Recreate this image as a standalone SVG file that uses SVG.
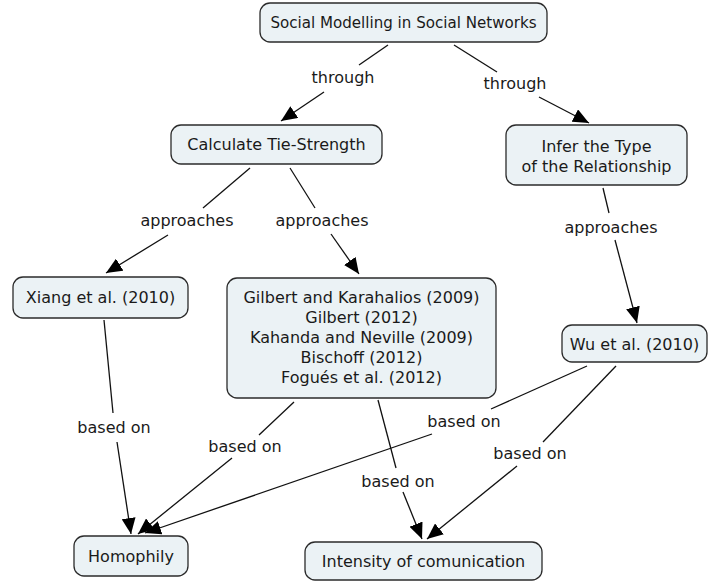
<svg xmlns="http://www.w3.org/2000/svg" width="709" height="581" viewBox="0 0 709 581">
<style>
.box{fill:#ebf2f5;stroke:#2b2b2b;stroke-width:1.3}
.t{font-family:"DejaVu Sans","Liberation Sans",sans-serif;font-size:16px;fill:#1a1a1a;text-anchor:middle;dominant-baseline:central}
.c{fill:none;stroke:#111;stroke-width:1.3}
</style>
<defs>
<marker id="ah" markerUnits="userSpaceOnUse" markerWidth="17" markerHeight="14" refX="16" refY="7" orient="auto">
<path d="M0,0 L16,7 L0,14 Z" fill="#000"/>
</marker>
</defs>
<rect width="709" height="581" fill="#fff"/>
<g id="connectors">
<path class="c" d="M388,45 L359,65"/>
<path class="c" d="M324,92 L281,121" marker-end="url(#ah)"/>
<text class="t" x="343" y="77">through</text>
<path class="c" d="M454,45 L497,72"/>
<path class="c" d="M539,97 L589,123" marker-end="url(#ah)"/>
<text class="t" x="515" y="83">through</text>
<path class="c" d="M250,168 L203,208"/>
<path class="c" d="M168,235 L106,273" marker-end="url(#ah)"/>
<text class="t" x="187" y="220">approaches</text>
<path class="c" d="M290,168 L315,208"/>
<path class="c" d="M331,234 L359,274" marker-end="url(#ah)"/>
<text class="t" x="322" y="220">approaches</text>
<path class="c" d="M603,188 L609,213"/>
<path class="c" d="M615,240 L637,323" marker-end="url(#ah)"/>
<text class="t" x="611" y="227">approaches</text>
<path class="c" d="M104,320 L113,413"/>
<path class="c" d="M117,442 L131,534" marker-end="url(#ah)"/>
<text class="t" x="114" y="427">based on</text>
<path class="c" d="M294,402 L259,435"/>
<path class="c" d="M232,458 L138,534" marker-end="url(#ah)"/>
<text class="t" x="245" y="446">based on</text>
<path class="c" d="M587,366 L491,409"/>
<path class="c" d="M432,434 L145,533" marker-end="url(#ah)"/>
<text class="t" x="464" y="421">based on</text>
<path class="c" d="M378,400 L396,468"/>
<path class="c" d="M403,492 L422,539" marker-end="url(#ah)"/>
<text class="t" x="398" y="481">based on</text>
<path class="c" d="M616,366 L543,442"/>
<path class="c" d="M517,466 L427,539" marker-end="url(#ah)"/>
<text class="t" x="530" y="453">based on</text>
</g>
<g id="n-social">
<rect class="box" x="260" y="3" width="287" height="39" rx="10"/>
<text class="t" x="403.5" y="22" textLength="266" lengthAdjust="spacingAndGlyphs">Social Modelling in Social Networks</text>
</g>
<g id="n-calc">
<rect class="box" x="171" y="125" width="211" height="39" rx="10"/>
<text class="t" x="276.5" y="144">Calculate Tie-Strength</text>
</g>
<g id="n-infer">
<rect class="box" x="506" y="125" width="181" height="60" rx="10"/>
<text class="t" x="596.5" y="146">Infer the Type</text>
<text class="t" x="596.5" y="166">of the Relationship</text>
</g>
<g id="n-xiang">
<rect class="box" x="13" y="277" width="175" height="41" rx="10"/>
<text class="t" x="100.5" y="297">Xiang et al. (2010)</text>
</g>
<g id="n-gilbert">
<rect class="box" x="227" y="278" width="269" height="120" rx="10"/>
<text class="t" x="361.5" y="297">Gilbert and Karahalios (2009)</text>
<text class="t" x="361.5" y="317">Gilbert (2012)</text>
<text class="t" x="361.5" y="337">Kahanda and Neville (2009)</text>
<text class="t" x="361.5" y="357">Bischoff (2012)</text>
<text class="t" x="361.5" y="377">Fogués et al. (2012)</text>
</g>
<g id="n-wu">
<rect class="box" x="562" y="325" width="145" height="37" rx="10"/>
<text class="t" x="634.5" y="344">Wu et al. (2010)</text>
</g>
<g id="n-homophily">
<rect class="box" x="74" y="536" width="114" height="40" rx="10"/>
<text class="t" x="131" y="556">Homophily</text>
</g>
<g id="n-intensity">
<rect class="box" x="305" y="542" width="237" height="38" rx="10"/>
<text class="t" x="423.5" y="561">Intensity of comunication</text>
</g>
</svg>
